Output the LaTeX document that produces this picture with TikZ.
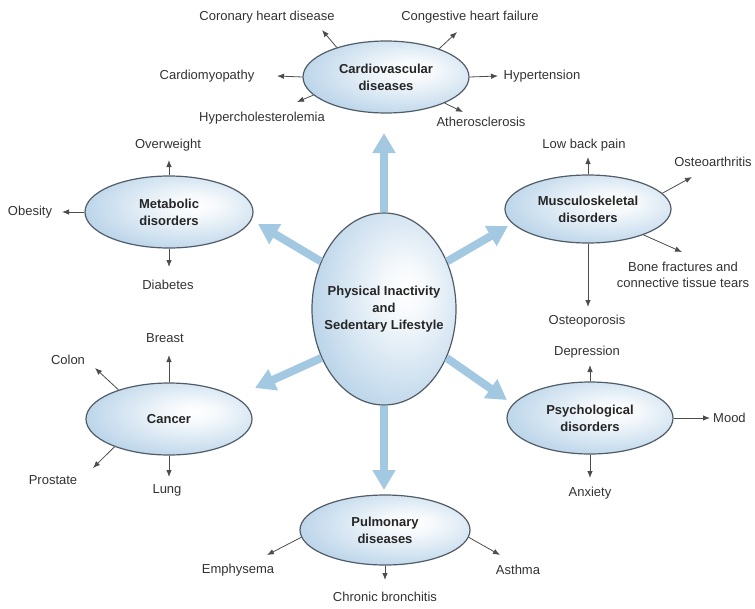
\documentclass[tikz,border=0pt]{standalone}
\usepackage{fontspec}
\setmainfont{Liberation Sans}
\usetikzlibrary{shapes.geometric,arrows.meta}
\definecolor{ellblue}{RGB}{138,182,218}
\definecolor{ellborder}{RGB}{80,92,104}
\definecolor{bigarrow}{RGB}{163,200,226}
\definecolor{txt}{RGB}{50,50,50}
\pgfdeclareradialshading{ellshade}{\pgfpoint{8bp}{5bp}}{color(0bp)=(white); color(7bp)=(white!92!ellblue); color(30bp)=(white!45!ellblue); color(50bp)=(ellblue); color(100bp)=(ellblue)}
\tikzset{
  ell/.style={ellipse, draw=ellborder, line width=1.2pt, shade, shading=ellshade, align=center, inner sep=0pt, text=black!85, font=\fontsize{13}{17}\selectfont\bfseries},
  lbl/.style={inner sep=1pt, text=txt, align=center, font=\fontsize{13}{16}\selectfont},
  sarr/.style={draw=black!70, line width=0.8pt, -{Latex[length=7pt,width=5.5pt]}},
  barr/.style={draw=bigarrow, line width=8pt, -{Triangle[length=20pt,width=22pt]}}
}
\begin{document}
\begin{tikzpicture}[x=1pt,y=-1pt]
\useasboundingbox (0,0) rectangle (755,608);

% ellipses
\node[ell, minimum width=144pt, minimum height=192pt, inner xsep=-10pt] (ctr) at (384,309) {Physical Inactivity\\and\\Sedentary Lifestyle};
\node[ell, minimum width=166pt, minimum height=72pt] (cv) at (386,77) {Cardiovascular\\diseases};
\node[ell, minimum width=168pt, minimum height=72pt] (met) at (169,212) {Metabolic\\disorders};
\node[ell, minimum width=166pt, minimum height=68pt] (mus) at (588,209) {Musculoskeletal\\disorders};
\node[ell, minimum width=166pt, minimum height=72pt] (psy) at (590,418) {Psychological\\disorders};
\node[ell, minimum width=166pt, minimum height=72pt] (can) at (169,419) {Cancer};
\node[ell, minimum width=170pt, minimum height=70pt] (pul) at (385,530) {Pulmonary\\diseases};

% labels
\node[lbl] (chd) at (267,17) {Coronary heart disease};
\node[lbl] (chf) at (470,17) {Congestive heart failure};
\node[lbl] (cmp) at (207,76) {Cardiomyopathy};
\node[lbl] (hyp) at (542,76) {Hypertension};
\node[lbl] (hc) at (262,118) {Hypercholesterolemia};
\node[lbl] (ath) at (481,122) {Atherosclerosis};
\node[lbl] (ow) at (168,145) {Overweight};
\node[lbl] (ob) at (30,212) {Obesity};
\node[lbl] (db) at (168,285) {Diabetes};
\node[lbl] (lbp) at (584,145) {Low back pain};
\node[lbl] (oa) at (713,162) {Osteoarthritis};
\node[lbl] (bf) at (683,275) {Bone fractures and\\connective tissue tears};
\node[lbl] (op) at (587,321) {Osteoporosis};
\node[lbl] (dep) at (587,352) {Depression};
\node[lbl, anchor=west] (mood) at (712,418) {Mood};
\node[lbl] (anx) at (590,493) {Anxiety};
\node[lbl] (br) at (165,338) {Breast};
\node[lbl] (col) at (68,360) {Colon};
\node[lbl] (pro) at (53,480) {Prostate};
\node[lbl] (lung) at (167,490) {Lung};
\node[lbl] (emp) at (238,570) {Emphysema};
\node[lbl] (ast) at (518,570) {Asthma};
\node[lbl] (cb) at (385,597) {Chronic bronchitis};

% arrow tips
\coordinate (tchd) at (322,30);
\coordinate (tchf) at (457,32);
\coordinate (tcmp) at (277,76);
\coordinate (thyp) at (498,76);
\coordinate (thc) at (297,102);
\coordinate (tath) at (463,112);
\coordinate (tow) at (169,160);
\coordinate (tob) at (62,212);
\coordinate (tdb) at (169,267);
\coordinate (tlbp) at (588,157);
\coordinate (toa) at (692,177);
\coordinate (tbf) at (682,252);
\coordinate (top) at (588,307);
\coordinate (tdep) at (590,365);
\coordinate (tmood) at (710,418);
\coordinate (tanx) at (590,478);
\coordinate (tbr) at (169,355);
\coordinate (tcol) at (95,368);
\coordinate (tpro) at (93,468);
\coordinate (tlung) at (169,477);
\coordinate (temp) at (267,555);
\coordinate (tast) at (500,555);
\coordinate (tcb) at (385,580);

\coordinate (bup) at (384,133);
\coordinate (bdn) at (384,490);
\coordinate (bul) at (258,224);
\coordinate (bur) at (508,226);
\coordinate (bll) at (255,388);
\coordinate (blr) at (507,400);

% big arrows
\draw[barr] (ctr.90) -- (bup);
\draw[barr] (ctr.270) -- (bdn);
\draw[barr] (ctr.143) -- (bul);
\draw[barr] (ctr.37) -- (bur);
\draw[barr] (ctr.218) -- (bll);
\draw[barr] (ctr.322) -- (blr);

% small arrows
\draw[sarr] (cv.149) -- (tchd);
\draw[sarr] (cv.28) -- (tchf);
\draw[sarr] (cv.180) -- (tcmp);
\draw[sarr] (cv.0) -- (thyp);
\draw[sarr] (cv.194) -- (thc);
\draw[sarr] (cv.336) -- (tath);
\draw[sarr] (met.90) -- (tow);
\draw[sarr] (met.180) -- (tob);
\draw[sarr] (met.270) -- (tdb);
\draw[sarr] (mus.90) -- (tlbp);
\draw[sarr] (mus.12) -- (toa);
\draw[sarr] (mus.335) -- (tbf);
\draw[sarr] (mus.270) -- (top);
\draw[sarr] (psy.90) -- (tdep);
\draw[sarr] (psy.0) -- (tmood);
\draw[sarr] (psy.270) -- (tanx);
\draw[sarr] (can.90) -- (tbr);
\draw[sarr] (can.150) -- (tcol);
\draw[sarr] (can.207) -- (tpro);
\draw[sarr] (can.270) -- (tlung);
\draw[sarr] (pul.185) -- (temp);
\draw[sarr] (pul.355) -- (tast);
\draw[sarr] (pul.270) -- (tcb);
\end{tikzpicture}
\end{document}
